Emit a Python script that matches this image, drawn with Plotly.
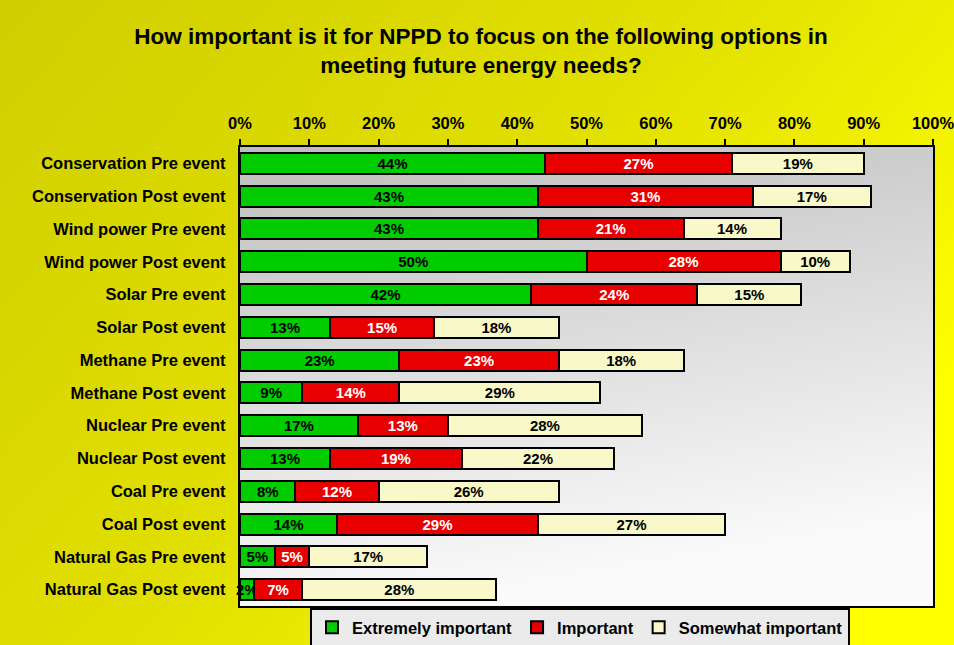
import base64
import plotly.graph_objects as go

# --- Survey data (percent of respondents) ---
categories = [
    "Conservation Pre event", "Conservation Post event",
    "Wind power Pre event", "Wind power Post event",
    "Solar Pre event", "Solar Post event",
    "Methane Pre event", "Methane Post event",
    "Nuclear Pre event", "Nuclear Post event",
    "Coal Pre event", "Coal Post event",
    "Natural Gas Pre event", "Natural Gas Post event",
]
extremely = [44, 43, 43, 50, 42, 13, 23, 9, 17, 13, 8, 14, 5, 2]
important = [27, 31, 21, 28, 24, 15, 23, 14, 13, 19, 12, 29, 5, 7]
somewhat = [19, 17, 14, 10, 15, 18, 18, 29, 28, 22, 26, 27, 17, 28]

tick_vals = [0, 10, 20, 30, 40, 50, 60, 70, 80, 90, 100]
tick_text = [f"{v}%" for v in tick_vals]


def svg_uri(svg):
    return "data:image/svg+xml;base64," + base64.b64encode(svg.encode()).decode()


paper_svg = """<svg xmlns='http://www.w3.org/2000/svg' width='954' height='645' preserveAspectRatio='none'>
<defs><linearGradient id='g' x1='0' y1='0' x2='1' y2='0.6'>
<stop offset='0' stop-color='#D0CE00'/><stop offset='0.55' stop-color='#E2E000'/><stop offset='1' stop-color='#FFFF00'/>
</linearGradient></defs><rect width='954' height='645' fill='url(#g)'/></svg>"""

plot_svg = """<svg xmlns='http://www.w3.org/2000/svg' width='693' height='459' preserveAspectRatio='none'>
<defs><linearGradient id='p' x1='0' y1='0' x2='0.25' y2='1'>
<stop offset='0' stop-color='#BEBEBE'/><stop offset='1' stop-color='#FAFAFA'/>
</linearGradient></defs><rect width='693' height='459' fill='url(#p)'/></svg>"""

L, R, T, B = 240, 21, 147, 39
W, H = 954, 645
pw, ph = W - L - R, H - T - B

fig = go.Figure()

series = [
    ("Extremely important", extremely, "#00CC00", "black"),
    ("Important", important, "#E80000", "white"),
    ("Somewhat important", somewhat, "#F8F8C8", "black"),
]
for name, vals, color, tcolor in series:
    fig.add_trace(
        go.Bar(
            y=categories,
            x=vals,
            name=name,
            orientation="h",
            marker=dict(color=color, line=dict(color="black", width=2)),
            text=[f"{v}%" for v in vals],
            textposition="inside",
            insidetextanchor="middle",
            textangle=0,
            cliponaxis=False,
            textfont=dict(color=tcolor, size=15, family="Liberation Sans", weight="bold"),
            hoverinfo="x+y+name",
        )
    )

fig.update_layout(
    barmode="stack",
    bargap=0.36,
    width=W,
    height=H,
    margin=dict(l=L, r=R, t=T, b=B, autoexpand=False),
    paper_bgcolor="#E0E000",
    plot_bgcolor="rgba(0,0,0,0)",
    font=dict(family="Liberation Sans", color="black", size=16.5, weight="bold"),
    uniformtext=dict(mode="show", minsize=15),
    title=dict(
        text="How important is it for NPPD to focus on the following options in<br>meeting future energy needs?",
        x=(481 - L) / pw,
        xanchor="center",
        xref="paper",
        y=1 - 44 / H,
        yanchor="top",
        yref="container",
        font=dict(size=22.5, family="Liberation Sans", weight="bold"),
    ),
    xaxis=dict(
        side="top",
        range=[0, 100],
        tickvals=tick_vals,
        ticktext=tick_text,
        ticks="outside",
        ticklen=6,
        tickwidth=2,
        tickcolor="black",
        ticklabeloverflow="allow",
        ticklabelstandoff=3,
        showline=True,
        linecolor="black",
        linewidth=2,
        mirror=True,
        showgrid=False,
        zeroline=False,
        automargin=False,
        tickfont=dict(size=16.5, weight="bold"),
    ),
    yaxis=dict(
        autorange="reversed",
        showline=True,
        linecolor="black",
        linewidth=2,
        mirror=True,
        showgrid=False,
        ticks="",
        ticksuffix="  ",
        automargin=False,
        tickfont=dict(size=16.5, weight="bold"),
    ),
    legend=dict(
        orientation="h",
        x=(580 - L) / pw,
        xanchor="center",
        y=-(608 - (T + ph)) / ph,
        yanchor="top",
        bgcolor="#EBEBEB",
        bordercolor="black",
        borderwidth=2,
        font=dict(size=16.5, weight="bold"),
        traceorder="normal",
        itemwidth=30,
        tracegroupgap=0,
    ),
    images=[
        dict(
            source=svg_uri(paper_svg),
            xref="paper", yref="paper",
            x=-L / pw, y=1 + T / ph,
            sizex=W / pw, sizey=H / ph,
            sizing="stretch", layer="below",
            xanchor="left", yanchor="top",
        ),
        dict(
            source=svg_uri(plot_svg),
            xref="paper", yref="paper",
            x=0, y=1, sizex=1, sizey=1,
            sizing="stretch", layer="below",
            xanchor="left", yanchor="top",
        ),
    ],
)

fig.write_html(
    "out.html",
    config={"displayModeBar": False},
    post_script="document.body.style.margin='0';",
)
